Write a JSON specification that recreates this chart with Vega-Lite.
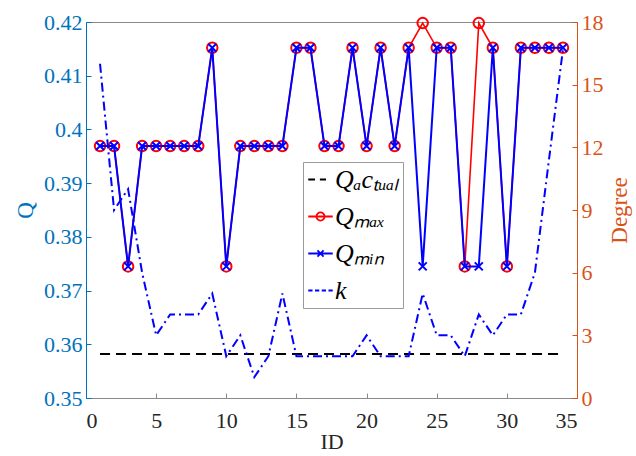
{
  "$schema": "https://vega.github.io/schema/vega-lite/v6.json",
  "width": 491,
  "height": 376,
  "autosize": {"type": "none"},
  "padding": {"left": 86, "top": 22, "right": 59, "bottom": 58},
  "background": "white",
  "config": {
    "font": "Liberation Serif",
    "view": {"stroke": "#8a8a8a", "strokeWidth": 1},
    "axis": {
      "labelFont": "Liberation Serif",
      "titleFont": "Liberation Serif",
      "titleFontWeight": "normal",
      "labelFontSize": 22,
      "titleFontSize": 23,
      "grid": false,
      "tickSize": -5,
      "domainWidth": 1,
      "tickWidth": 1
    },
    "legend": {
      "labelFont": "Liberation Serif"
    }
  },
  "data": {
    "values": [
      {"ID": 1, "Qactual": 0.3582, "Qmax": 0.3969, "Qmin": 0.3969, "k": 16},
      {"ID": 2, "Qactual": 0.3582, "Qmax": 0.3969, "Qmin": 0.3969, "k": 9},
      {"ID": 3, "Qactual": 0.3582, "Qmax": 0.3745, "Qmin": 0.3745, "k": 10},
      {"ID": 4, "Qactual": 0.3582, "Qmax": 0.3969, "Qmin": 0.3969, "k": 6},
      {"ID": 5, "Qactual": 0.3582, "Qmax": 0.3969, "Qmin": 0.3969, "k": 3},
      {"ID": 6, "Qactual": 0.3582, "Qmax": 0.3969, "Qmin": 0.3969, "k": 4},
      {"ID": 7, "Qactual": 0.3582, "Qmax": 0.3969, "Qmin": 0.3969, "k": 4},
      {"ID": 8, "Qactual": 0.3582, "Qmax": 0.3969, "Qmin": 0.3969, "k": 4},
      {"ID": 9, "Qactual": 0.3582, "Qmax": 0.4152, "Qmin": 0.4152, "k": 5},
      {"ID": 10, "Qactual": 0.3582, "Qmax": 0.3745, "Qmin": 0.3745, "k": 2},
      {"ID": 11, "Qactual": 0.3582, "Qmax": 0.3969, "Qmin": 0.3969, "k": 3},
      {"ID": 12, "Qactual": 0.3582, "Qmax": 0.3969, "Qmin": 0.3969, "k": 1},
      {"ID": 13, "Qactual": 0.3582, "Qmax": 0.3969, "Qmin": 0.3969, "k": 2},
      {"ID": 14, "Qactual": 0.3582, "Qmax": 0.3969, "Qmin": 0.3969, "k": 5},
      {"ID": 15, "Qactual": 0.3582, "Qmax": 0.4152, "Qmin": 0.4152, "k": 2},
      {"ID": 16, "Qactual": 0.3582, "Qmax": 0.4152, "Qmin": 0.4152, "k": 2},
      {"ID": 17, "Qactual": 0.3582, "Qmax": 0.3969, "Qmin": 0.3969, "k": 2},
      {"ID": 18, "Qactual": 0.3582, "Qmax": 0.3969, "Qmin": 0.3969, "k": 2},
      {"ID": 19, "Qactual": 0.3582, "Qmax": 0.4152, "Qmin": 0.4152, "k": 2},
      {"ID": 20, "Qactual": 0.3582, "Qmax": 0.3969, "Qmin": 0.3969, "k": 3},
      {"ID": 21, "Qactual": 0.3582, "Qmax": 0.4152, "Qmin": 0.4152, "k": 2},
      {"ID": 22, "Qactual": 0.3582, "Qmax": 0.3969, "Qmin": 0.3969, "k": 2},
      {"ID": 23, "Qactual": 0.3582, "Qmax": 0.4152, "Qmin": 0.4152, "k": 2},
      {"ID": 24, "Qactual": 0.3582, "Qmax": 0.4198, "Qmin": 0.3745, "k": 5},
      {"ID": 25, "Qactual": 0.3582, "Qmax": 0.4152, "Qmin": 0.4152, "k": 3},
      {"ID": 26, "Qactual": 0.3582, "Qmax": 0.4152, "Qmin": 0.4152, "k": 3},
      {"ID": 27, "Qactual": 0.3582, "Qmax": 0.3745, "Qmin": 0.3745, "k": 2},
      {"ID": 28, "Qactual": 0.3582, "Qmax": 0.4198, "Qmin": 0.3745, "k": 4},
      {"ID": 29, "Qactual": 0.3582, "Qmax": 0.4152, "Qmin": 0.4152, "k": 3},
      {"ID": 30, "Qactual": 0.3582, "Qmax": 0.3745, "Qmin": 0.3745, "k": 4},
      {"ID": 31, "Qactual": 0.3582, "Qmax": 0.4152, "Qmin": 0.4152, "k": 4},
      {"ID": 32, "Qactual": 0.3582, "Qmax": 0.4152, "Qmin": 0.4152, "k": 6},
      {"ID": 33, "Qactual": 0.3582, "Qmax": 0.4152, "Qmin": 0.4152, "k": 11.4},
      {"ID": 34, "Qactual": 0.3582, "Qmax": 0.4152, "Qmin": 0.4152, "k": 16.7}
    ]
  },
  "encoding": {
    "x": {
      "field": "ID",
      "type": "quantitative",
      "scale": {"domain": [0, 35], "nice": false, "zero": false},
      "axis": {
        "title": "ID",
        "values": [0, 5, 10, 15, 20, 25, 30, 35],
        "labelColor": "#262626",
        "titleColor": "#262626",
        "domainColor": "#8a8a8a",
        "tickColor": "#8a8a8a",
        "labelPadding": 17,
        "titlePadding": 0,
        "titleFontSize": 22
      }
    }
  },
  "layer": [
    {
      "layer": [
        {
          "mark": {"type": "line", "color": "#000000", "strokeWidth": 2, "strokeDash": [10, 6]},
          "encoding": {
            "y": {
              "field": "Qactual",
              "type": "quantitative",
              "scale": {"domain": [0.35, 0.42], "nice": false, "zero": false},
              "axis": {
                "orient": "left",
                "title": "Q",
                "values": [0.35, 0.36, 0.37, 0.38, 0.39, 0.4, 0.41, 0.42],
                "format": ".2~f",
                "labelColor": "#0072BD",
                "titleColor": "#0072BD",
                "domainColor": "#0072BD",
                "tickColor": "#0072BD",
                "labelPadding": 9,
                "titlePadding": 6
              }
            }
          }
        },
        {
          "mark": {"type": "line", "color": "#FF0000", "strokeWidth": 1.6},
          "encoding": {"y": {"field": "Qmax", "type": "quantitative"}}
        },
        {
          "mark": {"type": "point", "shape": "circle", "filled": false, "color": "#FF0000", "strokeWidth": 2, "size": 110, "opacity": 1},
          "encoding": {"y": {"field": "Qmax", "type": "quantitative"}}
        },
        {
          "mark": {"type": "line", "color": "#0000FF", "strokeWidth": 2},
          "encoding": {"y": {"field": "Qmin", "type": "quantitative"}}
        },
        {
          "mark": {"type": "point", "shape": "M-1,-1L1,1M-1,1L1,-1", "filled": false, "color": "#0000FF", "strokeWidth": 2, "size": 64, "opacity": 1},
          "encoding": {"y": {"field": "Qmin", "type": "quantitative"}}
        },
        {
          "transform": [{"fold": ["Qactual", "Qmax", "Qmin", "k"], "as": ["series", "val"]}],
          "mark": {"type": "point", "filled": false, "opacity": 0},
          "encoding": {
            "color": {
              "field": "series",
              "type": "nominal",
              "scale": {"domain": ["Qactual", "Qmax", "Qmin", "k"], "range": ["#000000", "#FF0000", "#0000FF", "#0000FF"]},
              "legend": {
                "orient": "none",
                "legendX": 217,
                "legendY": 140,
                "title": null,
                "fillColor": "white",
                "strokeColor": "#9a9a9a",
                "padding": 4,
                "labelFont": "Liberation Serif",
                "labelFontStyle": "italic",
                "labelFontSize": 26,
                "labelColor": "black",
                "symbolSize": 600,
                "symbolStrokeWidth": 1.8,
                "rowPadding": 10,
                "labelOffset": 1,
                "labelExpr": "datum.label == 'Qactual' ? 'Qₐcₜᵤₐₗ' : datum.label == 'Qmax' ? 'Qₘₐₓ' : datum.label == 'Qmin' ? 'Qₘᵢₙ' : 'k'",
                "encode": {
                  "symbols": {"update": {"opacity": {"value": 1}, "fill": {"value": "transparent"}}}
                }
              }
            },
            "shape": {
              "field": "series",
              "type": "nominal",
              "scale": {
                "domain": ["Qactual", "Qmax", "Qmin", "k"],
                "range": [
                  "M-1,0H-0.45M-0.05,0H0.45",
                  "M-1,0H1M-0.33,0A0.33,0.33,0,1,1,0.33,0A0.33,0.33,0,1,1,-0.33,0",
                  "M-1,0H1M-0.25,-0.25L0.25,0.25M-0.25,0.25L0.25,-0.25",
                  "M-1,0H-0.65M-0.45,0H-0.1M0.1,0H0.45M0.65,0H1"
                ]
              },
              "legend": null
            }
          }
        }
      ]
    },
    {
      "mark": {"type": "line", "color": "#0000FF", "strokeWidth": 2, "strokeDash": [9, 4, 2, 4]},
      "encoding": {
        "y": {
          "field": "k",
          "type": "quantitative",
          "scale": {"domain": [0, 18], "nice": false, "zero": false},
          "axis": {
            "orient": "right",
            "title": "Degree",
            "titleAngle": 270,
            "values": [0, 3, 6, 9, 12, 15, 18],
            "labelColor": "#D95319",
            "titleColor": "#D95319",
            "domainColor": "#D95319",
            "tickColor": "#D95319",
            "labelPadding": 9,
            "titlePadding": 28
          }
        }
      }
    }
  ],
  "resolve": {"scale": {"y": "independent"}}
}
